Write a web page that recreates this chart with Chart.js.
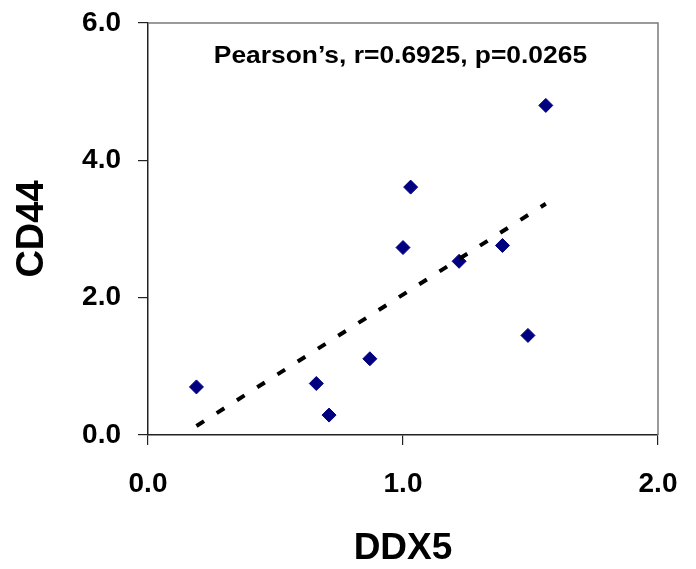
<!doctype html>
<html>

<head>
	<title>CD44 vs DDX5</title>
	<script src="https://cdn.jsdelivr.net/npm/chart.js@4"></script>
	<style>
		body { margin: 0; background: #fff; }
	</style>
</head>

<body>
	<canvas id="chart-area" width="696" height="569"></canvas>
	<script>
		// expression values, one entry per sample
		var ddx5 = [0.19, 0.66, 0.71, 0.87, 1.00, 1.03, 1.22, 1.39, 1.49, 1.56];
		var cd44 = [0.70, 0.75, 0.29, 1.11, 2.73, 3.61, 2.53, 2.76, 1.45, 4.80];

		var xTicks = [0, 1, 2];
		var yTicks = [0, 2, 4, 6];
		var statsLabel = 'Pearson\u2019s, r=0.6925, p=0.0265';

		var fontFamily = '"Liberation Sans", Arial, Helvetica, sans-serif';

		// least squares fit, drawn over the range of the samples
		function linearFit(xs, ys) {
			var n = xs.length, mx = 0, my = 0, sxy = 0, sxx = 0;
			for (var i = 0; i < n; i++) { mx += xs[i]; my += ys[i]; }
			mx /= n; my /= n;
			for (var j = 0; j < n; j++) {
				sxy += (xs[j] - mx) * (ys[j] - my);
				sxx += (xs[j] - mx) * (xs[j] - mx);
			}
			var slope = sxy / sxx;
			return { slope: slope, intercept: my - slope * mx };
		}

		var fit = linearFit(ddx5, cd44);
		var xMin = Math.min.apply(null, ddx5);
		var xMax = Math.max.apply(null, ddx5);
		var trendPoints = [
			{ x: xMin, y: fit.intercept + fit.slope * xMin },
			{ x: xMax, y: fit.intercept + fit.slope * xMax }
		];

		var samplePoints = ddx5.map(function (v, i) { return { x: v, y: cd44[i] }; });

		// grey frame on top/right plus the statistics line inside the plot
		var plotExtras = {
			id: 'plotExtras',
			beforeDatasetsDraw: function (chart) {
				var a = chart.chartArea, ctx = chart.ctx;
				ctx.save();
				ctx.strokeStyle = '#7a7a7a';
				ctx.lineWidth = 1.5;
				ctx.beginPath();
				ctx.moveTo(a.left, a.top);
				ctx.lineTo(a.right, a.top);
				ctx.lineTo(a.right, a.bottom);
				ctx.stroke();
				ctx.restore();
			},
			afterDraw: function (chart) {
				var ctx = chart.ctx;
				var cx = chart.scales.x.getPixelForValue(0.99);
				var cy = chart.scales.y.getPixelForValue(5.52);
				ctx.save();
				ctx.translate(cx, cy);
				ctx.scale(1.1, 1);
				ctx.font = 'bold 24px ' + fontFamily;
				ctx.fillStyle = '#000';
				ctx.textAlign = 'center';
				ctx.textBaseline = 'middle';
				ctx.fillText(statsLabel, 0, 0);
				ctx.restore();
			}
		};

		var config = {
			type: 'scatter',
			data: {
				datasets: [{
					type: 'line',
					data: trendPoints,
					borderColor: '#000',
					borderWidth: 4,
					borderDash: [9, 15],
					borderCapStyle: 'butt',
					pointRadius: 0,
					fill: false,
					order: 0
				}, {
					data: samplePoints,
					pointStyle: 'rectRot',
					pointRadius: 7,
					pointBorderWidth: 1,
					backgroundColor: '#000080',
					borderColor: '#000080',
					order: 1
				}]
			},
			options: {
				responsive: false,
				animation: false,
				events: [],
				layout: { padding: { top: 23, right: 38, left: 0, bottom: 0 } },
				plugins: {
					legend: { display: false },
					tooltip: { enabled: false }
				},
				scales: {
					x: {
						type: 'linear',
						min: 0,
						max: 2,
						afterBuildTicks: function (scale) {
							scale.ticks = xTicks.map(function (v) { return { value: v }; });
						},
						afterFit: function (scale) {
							scale.height = 134;
							scale.paddingLeft = 0;
							scale.paddingRight = 0;
						},
						border: { color: '#222', width: 1.5 },
						grid: { drawOnChartArea: false, drawTicks: true, tickLength: 10, color: '#222', lineWidth: 1.2 },
						ticks: {
							padding: 22,
							color: '#000',
							font: { family: fontFamily, weight: 'bold', size: 28 },
							callback: function (v) { return Number(v).toFixed(1); }
						},
						title: {
							display: true,
							text: 'DDX5',
							color: '#000',
							font: { family: fontFamily, weight: 'bold', size: 37, lineHeight: 1.1 },
							padding: { top: 0, bottom: 0 }
						}
					},
					y: {
						type: 'linear',
						min: 0,
						max: 6,
						afterBuildTicks: function (scale) {
							scale.ticks = yTicks.map(function (v) { return { value: v }; });
						},
						afterFit: function (scale) {
							scale.width = 148;
							scale.paddingTop = 0;
							scale.paddingBottom = 0;
						},
						border: { color: '#222', width: 1.5 },
						grid: { drawOnChartArea: false, drawTicks: true, tickLength: 10, color: '#222', lineWidth: 1.2 },
						ticks: {
							padding: 17,
							color: '#000',
							font: { family: fontFamily, weight: 'bold', size: 28 },
							callback: function (v) { return Number(v).toFixed(1); }
						},
						title: {
							display: true,
							text: 'CD44',
							color: '#000',
							font: { family: fontFamily, weight: 'bold', size: 38, lineHeight: 1.1 },
							padding: { top: 12, bottom: 0 }
						}
					}
				}
			},
			plugins: [plotExtras]
		};

		window.onload = function () {
			var ctx = document.getElementById('chart-area').getContext('2d');
			window.myScatter = new Chart(ctx, config);
		};
	</script>
</body>

</html>
